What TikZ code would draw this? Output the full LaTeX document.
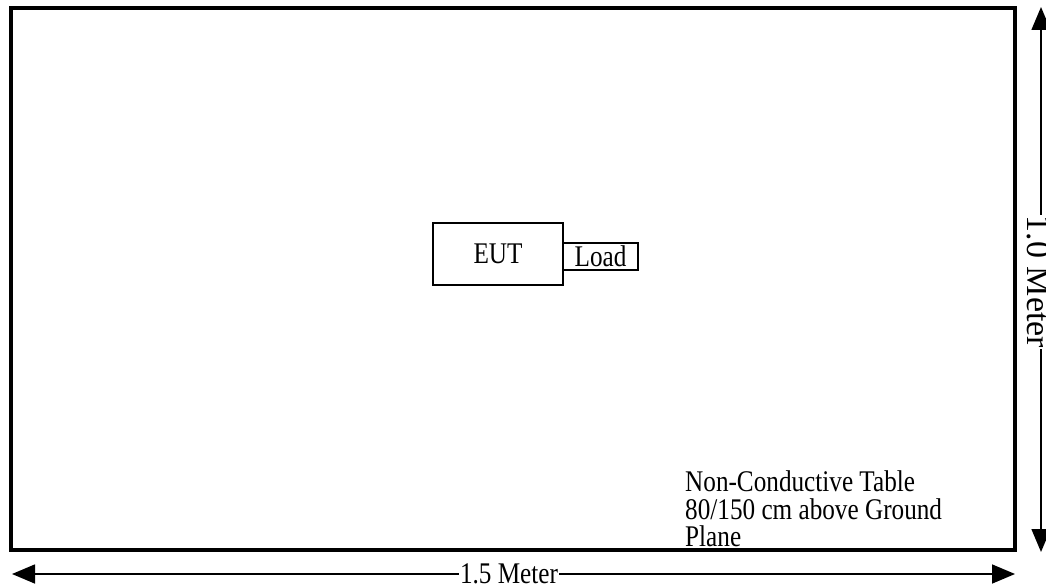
\documentclass[tikz,border=0pt]{standalone}
\usepackage{fontspec}
\setmainfont{Liberation Serif}
\newfontfamily\condserif[FakeStretch=0.84]{Liberation Serif}
\usetikzlibrary{arrows.meta}
\begin{document}
\begin{tikzpicture}[x=1pt,y=-1pt,
  every node/.style={font=\condserif\fontsize{30}{27.5}\selectfont, text=black},
  table/.style={draw=black, line width=4pt},
  box/.style={draw=black, line width=1.5pt, inner sep=0pt},
  dim/.style={line width=1.6pt, {Triangle[length=23pt,width=19pt]}-{Triangle[length=23pt,width=19pt]}},
  dimlabel/.style={fill=white, inner sep=1pt},
  vlabel/.style={fill=white, inner sep=1pt, rotate=-90, font=\rmfamily\fontsize{34}{36}\selectfont},
  note/.style={anchor=north west, inner sep=0pt, align=left}]
\useasboundingbox (0,0) rectangle (1046,588);
\draw[table] (11,8) rectangle (1015,550);
% EUT and load
\node[box, minimum width=130pt, minimum height=62pt] (eut) at (498,254) {EUT};
\node[box, minimum width=75pt, minimum height=27pt] (load) at (600.5,256.5) {Load};
% dimensions
\coordinate (bl) at (12,574);
\coordinate (br) at (1015,574);
\draw[dim] (bl) -- (br);
\node[dimlabel] (wlab) at (509,574) {1.5 Meter};
\coordinate (rt) at (1041,7);
\coordinate (rb) at (1041,552);
\draw[dim] (rt) -- (rb);
\node[vlabel] (hlab) at (1039,282) {1.0 Meter};
% note
\node[note] (note) at (685,470.5) {Non-Conductive Table\\80/150 cm above Ground\\Plane};
\end{tikzpicture}
\end{document}
